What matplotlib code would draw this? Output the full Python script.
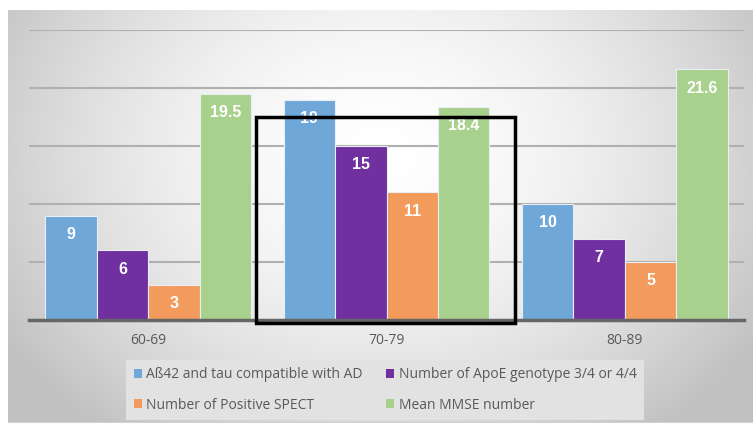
import numpy as np
import matplotlib
matplotlib.use("Agg")
import matplotlib.pyplot as plt
from matplotlib.patches import Rectangle

categories = ["60-69", "70-79", "80-89"]
series_names = ["Aß42 and tau compatible with AD",
                "Number of ApoE genotype 3/4 or 4/4",
                "Number of Positive SPECT",
                "Mean MMSE number"]
abeta_tau = [9, 19, 10]
apoe = [6, 15, 7]
spect = [3, 11, 5]
mmse = [19.5, 18.4, 21.6]
value_labels = [["9", "19", "10"], ["6", "15", "7"], ["3", "11", "5"], ["19.5", "18.4", "21.6"]]
colors = ["#6fa7d9", "#7030a0", "#f29b5c", "#a9d18e"]

W, H = 753, 423
fig = plt.figure(figsize=(W / 100, H / 100), dpi=100)
fig.patch.set_facecolor("white")

# background panel with radial gradient
bg = fig.add_axes([8 / W, 0, 1 - 8 / W, (H - 10) / H], zorder=0)
yy, xx = np.mgrid[0:1:200j, 0:1:400j]
d = np.sqrt(((xx - 0.5) / 0.62) ** 2 + ((yy - 0.35) / 0.9) ** 2)
g = np.clip(1.0 - 0.26 * d ** 1.7, 0.76, 1.0)
bg.imshow(np.dstack([g, g, g]), aspect="auto", extent=[0, 1, 1, 0])
bg.axhline(1, color="#d0d0d0", lw=1.5)
bg.set_axis_off()

ax = fig.add_axes([29 / W, (H - 320) / H, (744 - 29) / W, (320 - 30) / H], zorder=1)
ax.patch.set_alpha(0)

data = [abeta_tau, apoe, spect, mmse]
x = np.arange(len(categories))
bw = 0.216
handles = []
for i, (vals, col) in enumerate(zip(data, colors)):
    pos = x + (i - 1.5) * bw
    bars = ax.bar(pos, vals, width=bw, color=col, edgecolor="#e8eef4", linewidth=0.8,
                  label=series_names[i], zorder=3)
    handles.append(bars)
    for px, v, lab in zip(pos, vals, value_labels[i]):
        ax.annotate(lab, (px, v), xytext=(0, -13.5), textcoords="offset points",
                    ha="center", va="center", color="white", fontsize=11.5,
                    fontweight="bold", family=["Liberation Sans Narrow", "Liberation Sans"],
                    zorder=5)

ax.set_xlim(-0.5, 2.5)
ax.set_ylim(0, 25)
ax.set_yticks([5, 10, 15, 20, 25])
ax.yaxis.grid(True, color="#b0b0b0", lw=1.5, zorder=0)
ax.tick_params(axis="y", left=False, labelleft=False)
ax.set_xticks(x)
ax.set_xticklabels(categories, fontsize=10, color="#595959", family="Open Sans")
ax.tick_params(axis="x", length=0, pad=9)
for s in ["top", "right", "left"]:
    ax.spines[s].set_visible(False)
ax.spines["bottom"].set_color("#666666")
ax.spines["bottom"].set_linewidth(2.5)
ax.spines["bottom"].set_zorder(4)

# highlight box (annotation)
rect = Rectangle((256 / W, (H - 323) / H), (515 - 256) / W, (323 - 117) / H,
                 transform=fig.transFigure, fill=False, edgecolor="black",
                 linewidth=2.5, zorder=10)
fig.patches.append(rect)

order = [0, 2, 1, 3]
leg = fig.legend([handles[k] for k in order], [series_names[k] for k in order],
                 loc="center", bbox_to_anchor=(385 / W, 1 - 390 / H), ncol=2,
                 frameon=True, fancybox=False,
                 prop={"family": "Open Sans", "size": 10},
                 handlelength=0.6, handleheight=0.6, handletextpad=0.3,
                 columnspacing=1.7, labelspacing=1.1, borderpad=0.55)
leg.get_frame().set_facecolor("#e2e2e2")
leg.get_frame().set_edgecolor("none")
leg.get_frame().set_alpha(1)
for t in leg.get_texts():
    t.set_color("#595959")
for h in leg.legend_handles:
    h.set_edgecolor("none")

fig.savefig("out.png", dpi=100)
